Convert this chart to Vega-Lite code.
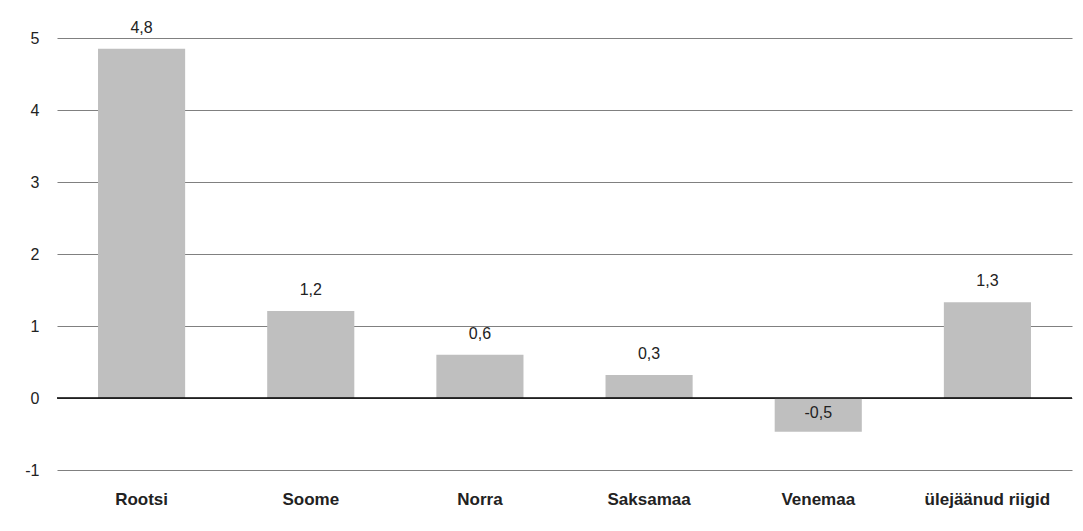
{
  "$schema": "https://vega.github.io/schema/vega-lite/v6.json",
  "width": 1015,
  "height": 432,
  "autosize": {"type": "none"},
  "padding": {"left": 57, "top": 38, "right": 11, "bottom": 61},
  "background": "white",
  "config": {
    "locale": {"number": {"decimal": ",", "thousands": " ", "grouping": [3], "currency": ["", " €"], "minus": "-"}},
    "view": {"stroke": null},
    "font": "Liberation Sans"
  },
  "data": {
    "values": [
      {"riik": "Rootsi", "value": 4.85},
      {"riik": "Soome", "value": 1.21},
      {"riik": "Norra", "value": 0.6},
      {"riik": "Saksamaa", "value": 0.32},
      {"riik": "Venemaa", "value": -0.47},
      {"riik": "ülejäänud riigid", "value": 1.33}
    ]
  },
  "encoding": {
    "x": {
      "field": "riik", "type": "nominal", "sort": null,
      "scale": {"paddingInner": 0.485, "paddingOuter": 0.2425},
      "axis": {"title": null, "labelAngle": 0, "labelFontWeight": "bold", "labelFontSize": 17, "labelColor": "#222222", "ticks": false, "domain": false, "labelPadding": 21, "grid": false}
    }
  },
  "layer": [
    {
      "mark": {"type": "bar", "color": "#bfbfbf"},
      "encoding": {
        "y": {
          "field": "value", "type": "quantitative",
          "scale": {"domain": [-1, 5], "nice": false, "zero": false},
          "axis": {"title": null, "values": [-1, 0, 1, 2, 3, 4, 5], "format": "d", "ticks": false, "domain": false, "labelPadding": 18, "labelFontSize": 16, "labelColor": "#222222", "gridColor": "#808080", "gridWidth": 1.2}
        }
      }
    },
    {
      "mark": {"type": "rule", "color": "#000000", "strokeWidth": 1.5},
      "data": {"values": [{"z": 0}]},
      "encoding": {"y": {"field": "z", "type": "quantitative"}, "x": null}
    },
    {
      "transform": [{"filter": "datum.value >= 0"}],
      "mark": {"type": "text", "baseline": "bottom", "dy": -13, "fontSize": 16, "color": "#222222"},
      "encoding": {
        "y": {"field": "value", "type": "quantitative"},
        "text": {"field": "value", "type": "quantitative", "format": ".1f"}
      }
    },
    {
      "transform": [{"filter": "datum.value < 0"}],
      "mark": {"type": "text", "baseline": "middle", "dy": 15, "fontSize": 16, "color": "#222222"},
      "encoding": {
        "y": {"datum": 0, "type": "quantitative"},
        "text": {"field": "value", "type": "quantitative", "format": ".1f"}
      }
    }
  ]
}
